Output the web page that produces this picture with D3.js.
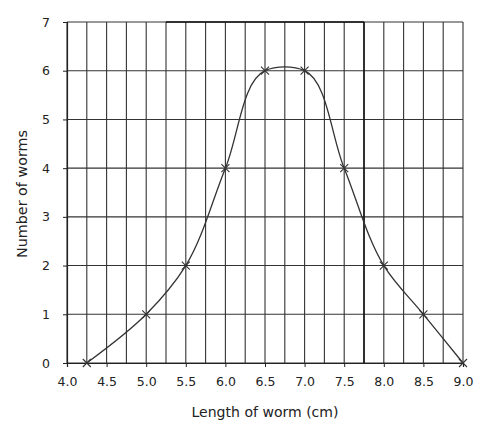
<!DOCTYPE html>
<html><head><meta charset="utf-8">
<script src="https://cdn.jsdelivr.net/npm/d3@7"></script>
<style>body{margin:0;background:#fff}svg{display:block}text{font-family:"DejaVu Sans",sans-serif;fill:#222}</style>
</head><body><svg id="c" width="487" height="430"></svg>
<script>
const lengths = [4.25, 5.0, 5.5, 6.0, 6.5, 7.0, 7.5, 8.0, 8.5, 9.0];
const counts  = [0, 1, 2, 4, 6, 6, 4, 2, 1, 0];
const xTicks = [4.0, 4.5, 5.0, 5.5, 6.0, 6.5, 7.0, 7.5, 8.0, 8.5, 9.0];
const yTicks = [0, 1, 2, 3, 4, 5, 6, 7];
const xTitle = "Length of worm (cm)";
const yTitle = "Number of worms";

const svg = d3.select("#c");
const x = d3.scaleLinear().domain([4, 9]).range([67, 463]);
const y = d3.scaleLinear().domain([0, 7]).range([363, 22]);

const grid = svg.append("g").attr("stroke", "#333").attr("stroke-width", 1.1);
const xg = d3.range(0, 21).map(i => 4 + i * 0.25);
grid.selectAll("line.v").data(xg).join("line")
  .attr("x1", d => x(d)).attr("x2", d => x(d)).attr("y1", y(0)).attr("y2", y(7));
grid.selectAll("line.h").data(yTicks).join("line")
  .attr("x1", x(4)).attr("x2", x(9)).attr("y1", d => y(d)).attr("y2", d => y(d));
// darker artefact lines
svg.append("line").attr("x1", x(7.75)).attr("x2", x(7.75)).attr("y1", y(0)).attr("y2", y(7)).attr("stroke", "#111").attr("stroke-width", 1.5);
svg.append("line").attr("x1", x(5.25)).attr("x2", x(7.75)).attr("y1", y(7)).attr("y2", y(7)).attr("stroke", "#111").attr("stroke-width", 1.5);

const xAxis = svg.append("g").attr("transform", `translate(0,${y(0)})`)
  .call(d3.axisBottom(x).tickValues(xTicks).tickFormat(d3.format(".1f")).tickSize(4).tickPadding(10));
const yAxis = svg.append("g").attr("transform", `translate(${x(4)},0)`)
  .call(d3.axisLeft(y).tickValues(yTicks).tickFormat(d3.format("d")).tickSize(4).tickPadding(13));
[xAxis, yAxis].forEach(a => {
  a.select(".domain").attr("stroke", "#222").attr("stroke-width", 1.2);
  a.selectAll(".tick line").attr("stroke", "#222");
  a.selectAll("text").attr("font-size", 12.5).attr("fill", "#222").attr("font-family", '"DejaVu Sans",sans-serif');
});

const pts = lengths.map((l, i) => [l, counts[i]]);
svg.append("path").datum(pts)
  .attr("fill", "none").attr("stroke", "#333").attr("stroke-width", 1.3)
  .attr("d", d3.line().x(d => x(d[0])).y(d => y(d[1])).curve(d3.curveCatmullRom.alpha(0.75)));

const s = 4;
svg.append("g").selectAll("path").data(pts).join("path")
  .attr("d", d => `M${x(d[0]) - s},${y(d[1]) - s}L${x(d[0]) + s},${y(d[1]) + s}M${x(d[0]) - s},${y(d[1]) + s}L${x(d[0]) + s},${y(d[1]) - s}`)
  .attr("stroke", "#333").attr("stroke-width", 1.1);

svg.append("text").attr("x", 265).attr("y", 417).attr("text-anchor", "middle").attr("font-size", 13.5)
  .attr("textLength", 147).attr("lengthAdjust", "spacingAndGlyphs").text(xTitle);
svg.append("text").attr("transform", `translate(27,194) rotate(-90)`).attr("text-anchor", "middle").attr("font-size", 14.5)
  .attr("textLength", 128).attr("lengthAdjust", "spacingAndGlyphs").text(yTitle);
</script></body></html>
